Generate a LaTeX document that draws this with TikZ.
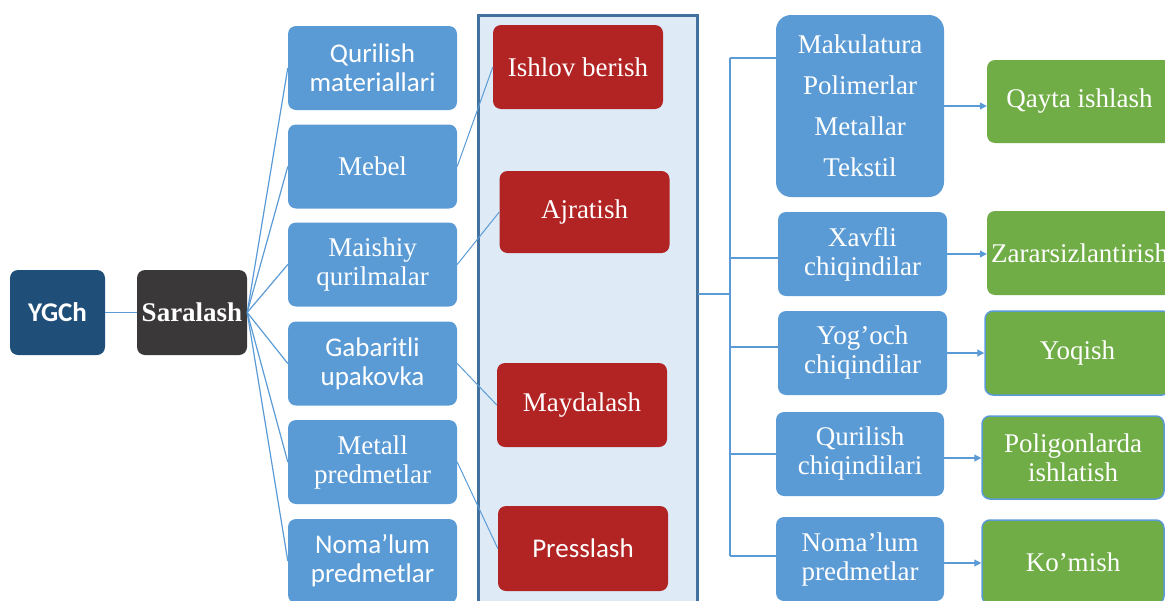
\documentclass[tikz,border=0pt]{standalone}
\usepackage{fontspec}
\setmainfont{Liberation Serif}
\newfontfamily\carlito{Carlito}
\usetikzlibrary{arrows.meta}
\definecolor{boxblue}{HTML}{5B9BD5}
\definecolor{linkblue}{HTML}{5B9BD5}
\definecolor{navy}{HTML}{1F4E79}
\definecolor{charcoal}{HTML}{3A3838}
\definecolor{brick}{HTML}{B22424}
\definecolor{leaf}{HTML}{70AD47}
\definecolor{panelfill}{HTML}{DEEBF7}
\definecolor{panelline}{HTML}{41719C}
\begin{document}
\begin{tikzpicture}[x=1pt,y=-1pt,
  box/.style={rounded corners=8pt, text=white, align=center, inner sep=0pt,
              font=\fontsize{27}{29}\selectfont},
  bluebox/.style={box, fill=boxblue, minimum width=169pt, minimum height=84pt},
  redbox/.style={box, fill=brick, minimum width=170pt, minimum height=84pt},
  greenbox/.style={box, fill=leaf, minimum width=185pt, minimum height=84pt},
  edged/.style={draw=boxblue, line width=1.5pt},
  link/.style={draw=linkblue, line width=1.2pt},
  arrowlink/.style={link, -{Triangle[length=7pt,width=7pt]}}]
\useasboundingbox (0,0) rectangle (1165,600);
\clip (0,0) rectangle (1165,600);

% processing panel
\node[draw=panelline, line width=3pt, fill=panelfill, minimum width=219pt,
      minimum height=610pt, anchor=north west, inner sep=0pt] (pan) at (477,14) {};

% start of the chain
\node[box, fill=navy, minimum width=95pt, minimum height=85pt,
      font=\fontsize{27}{29}\selectfont\carlito\bfseries] (ygch) at (57.5,312.5) {YGCh};
\node[box, fill=charcoal, minimum width=110pt, minimum height=85pt,
      font=\fontsize{27}{29}\selectfont\bfseries] (sar) at (192,312.5) {Saralash};

% sorted fractions
\node[bluebox, font=\fontsize{27}{29}\selectfont\carlito] (l1) at (372.5,68) {Qurilish\\materiallari};
\node[bluebox] (l2) at (372.5,166.5) {Mebel};
\node[bluebox] (l3) at (372.5,264.5) {Maishiy\\qurilmalar};
\node[bluebox, font=\fontsize{27}{29}\selectfont\carlito] (l4) at (372.5,363.5) {Gabaritli\\upakovka};
\node[bluebox] (l5) at (372.5,462) {Metall\\predmetlar};
\node[bluebox, font=\fontsize{27}{29}\selectfont\carlito] (l6) at (372.5,561) {Noma’lum\\predmetlar};

% processing steps
\node[redbox] (ish) at (578,67) {Ishlov berish};
\node[redbox, minimum height=82pt] (ajr) at (584.5,212) {Ajratish};
\node[redbox] (may) at (582,405) {Maydalash};
\node[redbox, minimum height=85pt, font=\fontsize{27}{29}\selectfont\carlito] (pre) at (583,548.5) {Presslash};

% output fractions
\node[bluebox, rounded corners=15pt, minimum width=168pt, minimum height=182pt,
      font=\fontsize{27}{41}\selectfont] (mak) at (860,106)
      {Makulatura\\Polimerlar\\Metallar\\Tekstil};
\node[bluebox] (xav) at (862.5,254) {Xavfli\\chiqindilar};
\node[bluebox] (yog) at (862.5,353) {Yog’och\\chiqindilar};
\node[bluebox, minimum width=168pt] (qch) at (860,454) {Qurilish\\chiqindilari};
\node[bluebox, minimum width=168pt] (nom) at (860,559) {Noma’lum\\predmetlar};

% treatment
\node[greenbox, minimum height=83pt] (qay) at (1079.5,101.5) {Qayta ishlash};
\node[greenbox] (zar) at (1079.5,253) {Zararsizlantirish};
\node[greenbox, edged] (yoq) at (1077.5,353) {Yoqish};
\node[greenbox, edged, minimum width=182pt, minimum height=83pt] (pol) at (1073,457.5) {Poligonlarda\\ishlatish};
\node[greenbox, edged, minimum width=182pt] (kom) at (1073,562) {Ko’mish};

% connectors on the left
\draw[link] (ygch) -- (sar);
\foreach \n in {l1,l2,l3,l4,l5,l6} \draw[link] (sar.east) -- (\n.west);
\draw[link, line width=1pt] (l2.east) -- (ish.west);
\draw[link, line width=1pt] (l3.east) -- (ajr.west);
\draw[link, line width=1pt] (l4.east) -- (may.west);
\draw[link, line width=1pt] (l5.east) -- (pre.west);

% bus on the right
\coordinate (pout) at (697.5,294);
\coordinate (bj) at (730,294);
\coordinate (btop) at (730,58);
\coordinate (b2) at (730,258);
\coordinate (b3) at (730,347);
\coordinate (b4) at (730,454);
\coordinate (bbot) at (730,556);
\draw[link] (pout) -- (bj);
\draw[link] (btop) -- (bbot);
\draw[link] (btop) -- (btop -| mak.west);
\draw[link] (b2) -- (b2 -| xav.west);
\draw[link] (b3) -- (b3 -| yog.west);
\draw[link] (b4) -- (b4 -| qch.west);
\draw[link] (bbot) -- (bbot -| nom.west);

% arrows to treatment
\draw[arrowlink] (mak.east) -- (mak.east -| qay.west);
\draw[arrowlink] (xav.east) -- (xav.east -| zar.west);
\draw[arrowlink] (yog.east) -- (yog.east -| yoq.west);
\draw[arrowlink] ([yshift=-4pt]qch.east) -- ([yshift=-4pt]qch.east -| pol.west);
\draw[arrowlink] ([yshift=-4pt]nom.east) -- ([yshift=-4pt]nom.east -| kom.west);
\end{tikzpicture}
\end{document}
